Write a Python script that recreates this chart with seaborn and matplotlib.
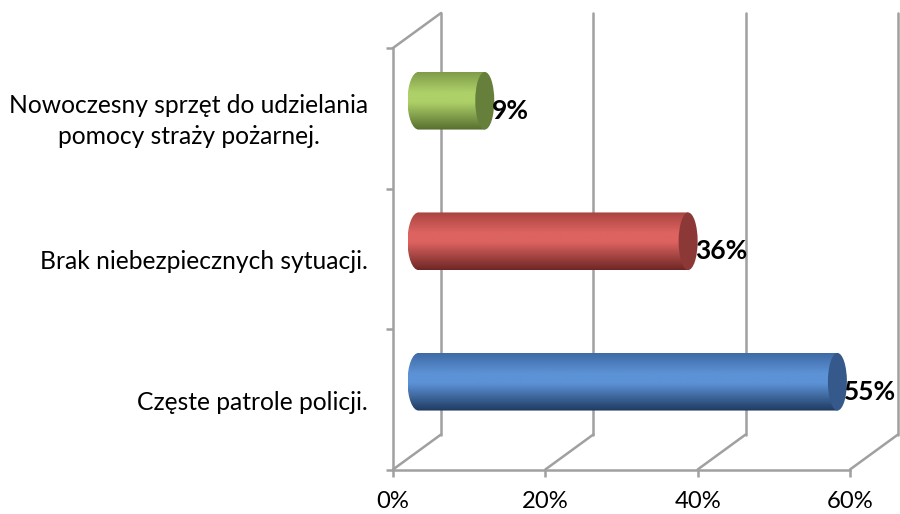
import numpy as np
import pandas as pd
import seaborn as sns
import matplotlib
matplotlib.use("Agg")
import matplotlib.pyplot as plt
from matplotlib.colors import LinearSegmentedColormap
from matplotlib.patches import Ellipse, PathPatch
from matplotlib.path import Path
from matplotlib.transforms import ScaledTranslation

categories = ["Nowoczesny sprzęt do udzielania\npomocy straży pożarnej.",
              "Brak niebezpiecznych sytuacji.",
              "Częste patrole policji."]
values = [8.7, 35.4, 55.0]
value_labels = ["9%", "36%", "55%"]
x_ticks = [0, 20, 40, 60]
body_colors = [("#7f9c4a", "#aed068", "#566e2f"),
               ("#a84441", "#dc6360", "#6e2725"),
               ("#3f6aa5", "#5c92d6", "#1f3a60")]
cap_colors = ["#66803c", "#8c3836", "#35598a"]

sns.set_theme(style="white")
plt.rcParams["font.family"] = ["Lato", "DejaVu Sans"]

W, H = 900, 514
L, R, T, B = 393, 850, 48, 469.5
GRID = "#a0a0a0"
fig = plt.figure(figsize=(W / 100, H / 100), dpi=100)
ax = fig.add_axes([L / W, 1 - B / H, (R - L) / W, (B - T) / H])
df = pd.DataFrame({"cat": categories, "val": values})
sns.barplot(data=df, y="cat", x="val", orient="h", width=0.41, color="#4F81BD", ax=ax, zorder=3)
ax.set_xlim(0, 60)
ax.set_ylim(2.5, -0.5)
ax.set_xlabel("")
ax.set_ylabel("")
ax.set_xticks(x_ticks)
ax.set_xticklabels([f"{t}%" for t in x_ticks], fontsize=17.2, color="#000000")
ax.set_yticks([-0.5, 0.5, 1.5, 2.5])
ax.set_yticklabels([])
ax.tick_params(axis="both", which="major", length=5, width=1.8, color=GRID, bottom=True, left=True, pad=10.5)
for s in ["top", "right"]:
    ax.spines[s].set_visible(False)
for s in ["left", "bottom"]:
    ax.spines[s].set_color(GRID)
    ax.spines[s].set_linewidth(1.8)

# category labels, to the left of the axis
for i, c in enumerate(categories):
    ax.annotate(c, xy=(0, i), xycoords="data", xytext=(-25, -3), textcoords="offset pixels",
                ha="right", va="center", fontsize=17.7, color="#000000", linespacing=1.4,
                multialignment="center")

def shift(dx, dy):
    return ax.transData + ScaledTranslation(dx / 100, dy / 100, fig.dpi_scale_trans)

# back wall: diagonals and verticals at the rear plane
DX, DY = 48, 35
back = shift(DX, DY)
inv = ax.transData.inverted()
for t in x_ticks:
    ax.plot([t, t], [2.5, -0.5], transform=back, color=GRID, lw=1.8, zorder=1, clip_on=False)
    q = inv.transform(ax.transData.transform((t, 2.5)) + np.array([DX, DY]))
    ax.plot([t, q[0]], [2.5, q[1]], color=GRID, lw=1.8, zorder=1, clip_on=False)
q = inv.transform(ax.transData.transform((0, -0.5)) + np.array([DX, DY]))
ax.plot([0, q[0]], [-0.5, q[1]], color=GRID, lw=1.8, zorder=1, clip_on=False)

# cylinders: seaborn's bars give position and length, mid-depth offset applied
mid = shift(25.5, 17.5)
rx = 9.5 / (R - L) * 60
rl = 11 / (R - L) * 60
k = 0.5523
bars = list(ax.patches)
for i, patch in enumerate(bars):
    patch.set_visible(False)
    w = patch.get_width()
    y0 = patch.get_y()
    h = patch.get_height()
    yc = y0 + h / 2
    ry = h / 2
    verts = [(0, y0), (w, y0), (w, y0 + h), (0, y0 + h),
             (-rl * k, y0 + h), (-rl, yc + ry * k), (-rl, yc),
             (-rl, yc - ry * k), (-rl * k, y0), (0, y0), (0, y0)]
    codes = [Path.MOVETO, Path.LINETO, Path.LINETO, Path.LINETO,
             Path.CURVE4, Path.CURVE4, Path.CURVE4,
             Path.CURVE4, Path.CURVE4, Path.CURVE4, Path.CLOSEPOLY]
    clip = PathPatch(Path(verts, codes), transform=mid, facecolor="none", edgecolor="none")
    ax.add_patch(clip)
    c_top, c_mid, c_bot = body_colors[i]
    cmap = LinearSegmentedColormap.from_list("b", [(0, c_top), (0.35, c_mid), (0.52, c_mid), (1, c_bot)])
    grad = np.linspace(0, 1, 128).reshape(-1, 1)
    im = ax.imshow(grad, cmap=cmap, aspect="auto", extent=(-rl, w, y0 + h, y0),
                   transform=mid, zorder=3, interpolation="bilinear")
    im.set_clip_path(clip)
    ax.add_patch(Ellipse((w, yc), 2 * rx, h, transform=mid, facecolor=cap_colors[i], edgecolor="none", zorder=4))
    ax.annotate(value_labels[i], xy=(w, yc), xycoords=mid, xytext=(7, -10), textcoords="offset pixels",
                ha="left", va="center", fontsize=19, fontweight="bold", color="#000000", zorder=6,
                annotation_clip=False)
ax.set_xlim(0, 60)
ax.set_ylim(2.5, -0.5)
fig.savefig("out.png", dpi=100)
